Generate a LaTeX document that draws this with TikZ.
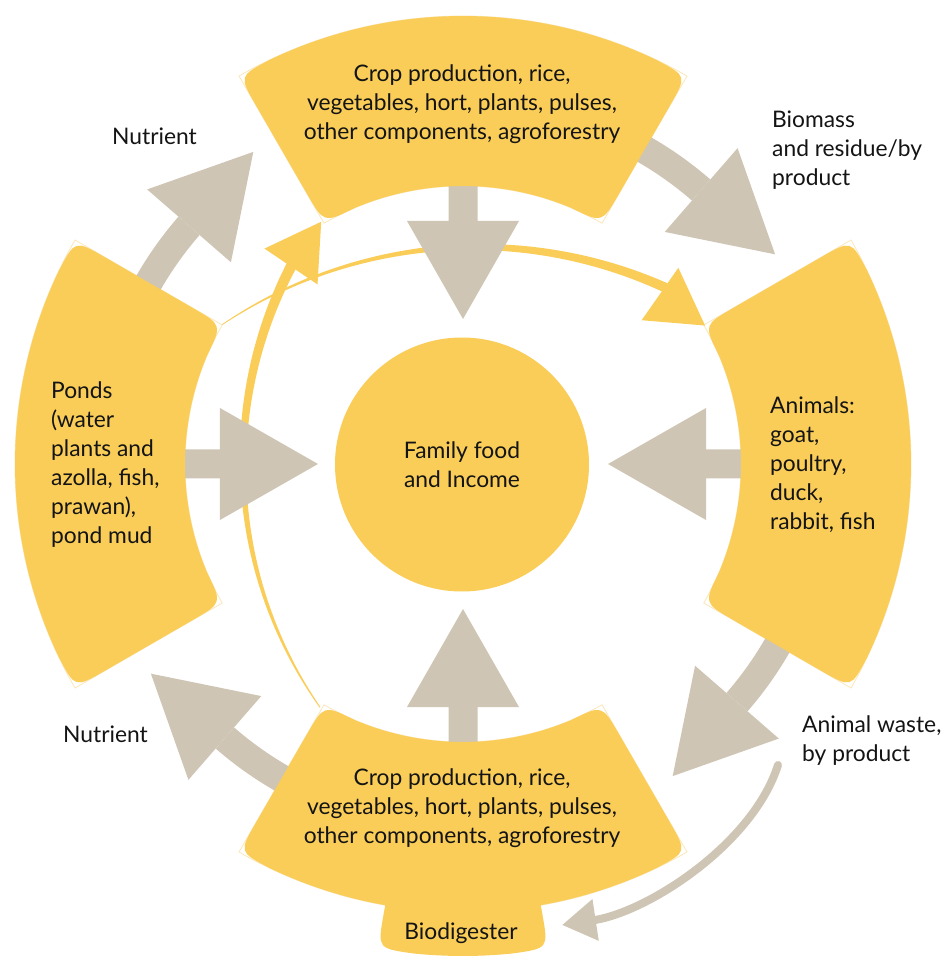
\documentclass[tikz,border=0pt]{standalone}
\usepackage{fontspec}
\setmainfont{Lato}
\usetikzlibrary{calc,arrows.meta}

\definecolor{segyellow}{HTML}{F9CD58}
\definecolor{flowgray}{HTML}{CFC5B4}
\definecolor{seamline}{HTML}{FBE6B8}
\definecolor{ink}{HTML}{141414}

% rounded annular sector: #1 style, #2 start angle, #3 end angle, #4 inner radius, #5 outer radius
\newcommand\ringsector[5]{%
  \fill[#1] (#2+7:#4) arc[start angle=#2+7, end angle=#3-7, radius=#4]
    .. controls (#3:#4) and (#3:#4) .. (#3:#4+34)
    -- (#3:#5-34)
    .. controls (#3:#5) and (#3:#5) .. (#3-4.35:#5)
    arc[start angle=#3-4.35, end angle=#2+4.35, radius=#5]
    .. controls (#2:#5) and (#2:#5) .. (#2:#5-34)
    -- (#2:#4+34)
    .. controls (#2:#4) and (#2:#4) .. (#2+7:#4) -- cycle;}

% faint square-cornered outline of a sector
\newcommand\ringseam[4]{%
  \draw[seamline, line width=0.8pt] (#1:#3) arc[start angle=#1, end angle=#2, radius=#3]
    -- (#2:#4) arc[start angle=#2, end angle=#1, radius=#4] -- cycle;}

% curved grey flow arrow on the mid ring, running clockwise from #1 to #2
\newcommand\flowarc[2]{%
  \fill[flowgray] (#1:349) arc[start angle=#1, end angle=#2, radius=349]
    -- (#2:377) arc[start angle=#2, end angle=#1, radius=377] -- cycle;
  \fill[flowgray] (#2:307.5) -- (#2:418.5) -- ($(#2:363)+(#2-90:98)$) -- cycle;}

% straight grey arrow pointing to the hub from direction #1
\newcommand\flowin[1]{%
  \fill[flowgray, rotate=#1] (290,-14.5) -- (243,-14.5) -- (243,-56) -- (145,0)
    -- (243,56) -- (243,14.5) -- (290,14.5) -- cycle;}

\begin{document}
\begin{tikzpicture}[x=1pt, y=1pt,
  lbl/.style={text=ink, font=\fontsize{22.8}{29}\selectfont, inner sep=0pt}]

\clip (-463,-494) rectangle (482,464);

% faint seams of the four sectors
\ringseam{60}{120}{278}{448}
\ringseam{150}{210}{278}{448}
\ringseam{240}{300}{278}{448}
\ringseam{-30}{30}{278}{448}

% yellow tapering arcs
\fill[segyellow]
  plot[domain=0:1, samples=70] ({206+(426.5+5*\x)*cos(215-65*\x)}, {1+(426.5+5*\x)*sin(215-65*\x)})
  -- plot[domain=0:1, samples=70] ({206+(425.5-5*(1-\x))*cos(150+65*\x)}, {1+(425.5-5*(1-\x))*sin(150+65*\x)})
  -- cycle;
\fill[segyellow]
  plot[domain=0:1, samples=70] ({14+(457.4+4.6*\x)*cos(123.9-59.9*\x)}, {-240+(457.4+4.6*\x)*sin(123.9-59.9*\x)})
  -- plot[domain=0:1, samples=70] ({14+(456.6-4.6*(1-\x))*cos(64+59.9*\x)}, {-240+(456.6-4.6*(1-\x))*sin(64+59.9*\x)})
  -- cycle;
\coordinate (ylb) at (-172,197.5);
\fill[segyellow] ($(ylb)+(146:32)$) -- ($(ylb)+(56:54)$) -- ($(ylb)+(326:32)$) -- cycle;
\coordinate (yrb) at (197,170);
\fill[segyellow] ($(yrb)+(55:32)$) -- ($(yrb)+(-35:55)$) -- ($(yrb)+(235:32)$) -- cycle;

% grey flows
\flowarc{155}{139}
\flowarc{65}{49}
\flowarc{-25}{-41}
\flowarc{245}{229}
\flowin{90}
\flowin{180}
\flowin{0}
\flowin{270}

% sectors
\ringsector{segyellow}{260}{280}{420}{492}
\ringsector{segyellow}{60}{120}{278}{448}
\ringsector{segyellow}{150}{210}{278}{448}
\ringsector{segyellow}{240}{300}{278}{448}
\ringsector{segyellow}{-30}{30}{278}{448}

% hub
\node[lbl, circle, fill=segyellow, minimum size=254pt, align=center] (hub) at (-1,-0.5) {Family food\\and Income};

% sector texts
\node[lbl, align=center] (ctop) at (-1,359.5) {Crop production, rice,\\vegetables, hort, plants, pulses,\\other components, agroforestry};
\node[lbl, align=center] (cbottom) at (-1,-344.5) {Crop production, rice,\\vegetables, hort, plants, pulses,\\other components, agroforestry};
\node[lbl, align=left, anchor=west] (cleft) at (-412,-0.5) {Ponds\\(water\\plants and\\azolla, fish,\\prawan),\\pond mud};
\node[lbl, align=left, anchor=west] (cright) at (307,-1) {Animals:\\goat,\\poultry,\\duck,\\rabbit, fish};
\node[lbl] (digest) at (-2,-469.5) {Biodigester};

% flow labels
\node[lbl, anchor=west] (nut1) at (-351,327.5) {Nutrient};
\node[lbl, align=left, anchor=west] (bio) at (309,313.5) {Biomass\\and residue/by\\product};
\node[lbl, anchor=west] (nut2) at (-400,-270.5) {Nutrient};
\node[lbl, align=left, anchor=west] (waste) at (339,-276.5) {Animal waste,\\by product};

% waste to biodigester
\coordinate (wasteS) at (315,-301);
\coordinate (digestE) at (99,-461);
\draw[flowgray, line width=8pt, line cap=round, -{Triangle[length=34pt,width=40pt]}]
  (wasteS) .. controls (290,-380) and (185,-448) .. (digestE);

\end{tikzpicture}
\end{document}
